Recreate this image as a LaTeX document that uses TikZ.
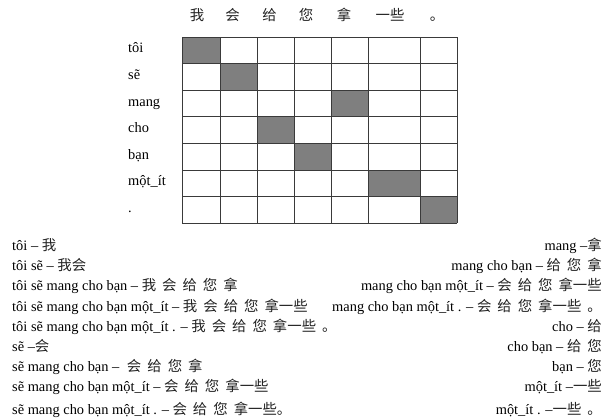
\documentclass[tikz,border=0pt]{standalone}
\usepackage{fontspec}
\setmainfont{Liberation Serif}
\newfontfamily\zhfont{Noto Sans CJK SC}
\usepackage{xcolor}
\usepackage{tikz}
\usetikzlibrary{positioning}
\definecolor{gridc}{HTML}{3A3A3A}
\definecolor{cellc}{HTML}{7F7F7F}
\definecolor{zhc}{HTML}{222222}
\newcommand{\zh}[1]{{\color{zhc}\zhfont #1}}
\newcommand{\zsp}{\hspace{6pt}}
\tikzset{
  gl/.style={gridc,line width=0.9pt},
  hd/.style={font=\zhfont\fontsize{14.4}{16}\selectfont,text=zhc,inner sep=0pt,anchor=base},
  lb/.style={font=\fontsize{14.4}{16}\selectfont,inner sep=0pt,anchor=base west},
  rb/.style={font=\fontsize{14.4}{16}\selectfont,inner sep=0pt,anchor=base east}
}

\begin{document}
\begin{tikzpicture}[x=1pt,y=-1pt]
\useasboundingbox (0,0) rectangle (613,418);
\foreach \px/\t [count=\i] in {197/我,232.5/会,269.5/给,306/您,344/拿,390/一些,437/。}
  \node[hd] (h\i) at (\px,20.5) {\t};
\foreach \r/\xa/\xb in {0/182/220,1/220/257,2/331/368,3/257/294,4/294/331,5/368/420,6/420/457}
  \fill[cellc] (\xa,{37+26.6*\r}) rectangle (\xb,{37+26.6*(\r+1)});
\foreach \x in {182,220,257,294,331,368,420,457}
  \draw[gl] (\x,37) -- (\x,223.2);
\foreach \r in {0,...,7}
  \draw[gl] (182,{37+26.6*\r}) -- (457,{37+26.6*\r});
\foreach \t [count=\i] in {tôi,sẽ,mang,cho,bạn,một\_ít,.}
  \node[lb] (r\i) at (128,{37+26.6*(\i-0.5)+2.5}) {\t};
\foreach \yb/\t [count=\i] in {
  250.7/{tôi – \zh{我}},
  270/{tôi sẽ – \zh{我会}},
  290.7/{tôi sẽ mang cho bạn – \zh{我\zsp 会\zsp 给\zsp 您\zsp 拿}},
  311.3/{tôi sẽ mang cho bạn một\_ít – \zh{我\zsp 会\zsp 给\zsp 您\zsp 拿一些}},
  331.3/{tôi sẽ mang cho bạn một\_ít . – \zh{我\zsp 会\zsp 给\zsp 您\zsp 拿一些\zsp 。}},
  351.3/{sẽ –\zh{会}},
  371.3/{sẽ mang cho bạn – \zh{\hspace{4pt}会\zsp 给\zsp 您\zsp 拿}},
  391.3/{sẽ mang cho bạn một\_ít – \zh{会\zsp 给\zsp 您\zsp 拿一些}},
  414/{sẽ mang cho bạn một\_ít . – \zh{会\zsp 给\zsp 您\zsp 拿一些。}}}
  \node[lb] (l\i) at (12,\yb) {\t};
\foreach \yb/\t [count=\i] in {
  250.7/{mang –\zh{拿}},
  270/{mang cho bạn – \zh{给\zsp 您\zsp 拿}},
  290.7/{mang cho bạn một\_ít – \zh{会\zsp 给\zsp 您\zsp 拿一些}},
  311.3/{mang cho bạn một\_ít . – \zh{会\zsp 给\zsp 您\zsp 拿一些\zsp 。}},
  331.3/{cho – \zh{给}},
  351.3/{cho bạn – \zh{给\zsp 您}},
  371.3/{bạn – \zh{您}},
  391.3/{một\_ít –\zh{一些}},
  414/{một\_ít . –\zh{一些\zsp 。}}}
  \node[rb] (m\i) at (602,\yb) {\t};
\end{tikzpicture}
\end{document}
